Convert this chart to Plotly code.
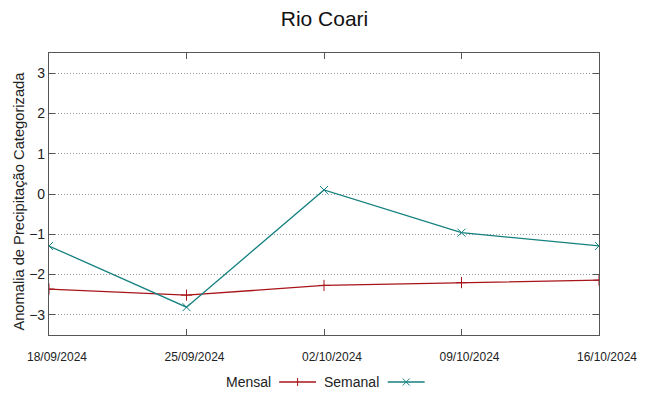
import plotly.graph_objects as go

dates = ["2024-09-18", "2024-09-25", "2024-10-02", "2024-10-09", "2024-10-16"]
tick_labels = ["18/09/2024", "25/09/2024", "02/10/2024", "09/10/2024", "16/10/2024"]
mensal = [-2.36, -2.51, -2.27, -2.20, -2.14]
semanal = [-1.29, -2.81, 0.10, -0.96, -1.29]
y_ticks = [-3, -2, -1, 0, 1, 2, 3]

RED = "#a8141a"
TEAL = "#14807f"
FONT = "Liberation Sans, Arial, sans-serif"
TXT = "#222222"
BORDER = "#555555"

W, H = 649, 396
O = 8  # default body margin of the html page
L, R, T, B = 49, 48, 53, 61
pw, ph = W - L - R, H - T - B

fig = go.Figure()
fig.add_trace(go.Scatter(x=dates, y=mensal, mode="lines+markers", name="Mensal",
                         line=dict(color=RED, width=1.3),
                         marker=dict(symbol="cross-thin-open", size=8, line=dict(color=RED, width=1)),
                         showlegend=False))
fig.add_trace(go.Scatter(x=dates, y=semanal, mode="lines+markers", name="Semanal",
                         line=dict(color=TEAL, width=1.3),
                         marker=dict(symbol="x-thin-open", size=8, line=dict(color=TEAL, width=1)),
                         showlegend=False))

fig.update_layout(
    width=W - O, height=H - O,
    margin=dict(l=L - O, r=R, t=T - O, b=B),
    paper_bgcolor="white", plot_bgcolor="white",
    font=dict(family=FONT, color=TXT),
    title=dict(text="Rio Coari", x=(W / 2 - O) / (W - O), xanchor="center",
               y=1 - (19 - O) / (H - O), yanchor="middle",
               font=dict(size=21, family=FONT, color="#111111")),
)
fig.update_xaxes(
    type="date", range=[dates[0], dates[-1]],
    tickvals=dates, ticktext=tick_labels,
    ticks="inside", ticklen=6, tickcolor=BORDER, tickwidth=1,
    showline=True, linecolor=BORDER, linewidth=1.2, mirror="allticks",
    showgrid=False, zeroline=False,
    ticklabelshift=8, ticklabelstandoff=10,
    tickfont=dict(size=12, family=FONT, color=TXT),
)
fig.update_yaxes(
    range=[-3.5, 3.5], tickvals=y_ticks,
    ticks="inside", ticklen=6, tickcolor=BORDER, tickwidth=1,
    showline=True, linecolor=BORDER, linewidth=1.2, mirror="allticks",
    showgrid=True, gridcolor="#999999", griddash="1px,2px", gridwidth=1,
    zeroline=False,
    tickfont=dict(size=14, family=FONT, color=TXT),
)

def px_x(p):
    return (p - L) / pw

def px_y(p):
    return (H - B - p) / ph

# y-axis title
fig.add_annotation(text="Anomalia de Precipitação Categorizada", textangle=-90,
                   xref="paper", yref="paper", x=px_x(18.5), y=px_y(201),
                   xanchor="center", yanchor="middle", showarrow=False,
                   font=dict(size=14.7, family=FONT, color=TXT))

# gnuplot-style legend: text then sample
ly = 382
legend_items = [("Mensal", 274, 280, 317, RED, "+"), ("Semanal", 382, 389, 426, TEAL, "x")]
for name, tx, x0, x1, col, sym in legend_items:
    fig.add_annotation(text=name, xref="paper", yref="paper", x=px_x(tx), y=px_y(ly),
                       xanchor="right", yanchor="middle", showarrow=False,
                       font=dict(size=14, family=FONT, color=TXT))
    fig.add_shape(type="line", xref="paper", yref="paper", x0=px_x(x0), x1=px_x(x1),
                  y0=px_y(ly), y1=px_y(ly), line=dict(color=col, width=1.3))
    mx = (x0 + x1) / 2
    if sym == "+":
        fig.add_shape(type="line", xref="paper", yref="paper", x0=px_x(mx), x1=px_x(mx),
                      y0=px_y(ly - 4), y1=px_y(ly + 4), line=dict(color=col, width=1))
    else:
        fig.add_shape(type="line", xref="paper", yref="paper", x0=px_x(mx - 3.5), x1=px_x(mx + 3.5),
                      y0=px_y(ly - 3.5), y1=px_y(ly + 3.5), line=dict(color=col, width=1))
        fig.add_shape(type="line", xref="paper", yref="paper", x0=px_x(mx - 3.5), x1=px_x(mx + 3.5),
                      y0=px_y(ly + 3.5), y1=px_y(ly - 3.5), line=dict(color=col, width=1))

fig.write_html("out.html")
